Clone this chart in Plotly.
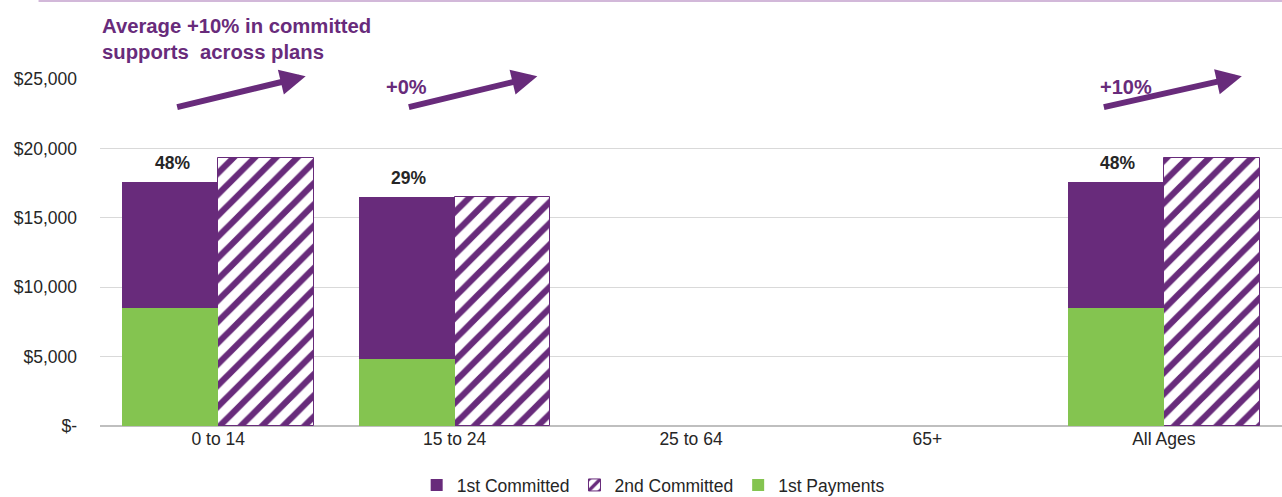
import plotly.graph_objects as go

# dati
categorie = ["0 to 14", "15 to 24", "25 to 64", "65+", "All Ages"]
primo_impegnato = [17600, 16500, None, None, 17600]
secondo_impegnato = [19300, 16500, None, None, 19300]
primi_pagamenti = [8500, 4850, None, None, 8500]
etichette_pct = ["48%", "29%", "", "", "48%"]

tick_vals = [0, 5000, 10000, 15000, 20000, 25000]
tick_txt = ["$-", "$5,000", "$10,000", "$15,000", "$20,000", "$25,000"]

VIOLA = "#682b7b"
VERDE = "#84c450"
w = 0.405

fig = go.Figure()

fig.add_trace(go.Bar(
    x=categorie, y=primo_impegnato, name="1st Committed",
    width=w, offset=-w, opacity=1, marker=dict(color=VIOLA, line=dict(width=0)),
))
fig.add_trace(go.Bar(
    x=categorie, y=secondo_impegnato, name="2nd Committed",
    width=w, offset=0, opacity=1,
    marker=dict(color="white", line=dict(color=VIOLA, width=1),
                pattern=dict(shape="/", fgcolor=VIOLA, bgcolor="white", fgopacity=1,
                             size=15, solidity=0.42)),
))
fig.add_trace(go.Bar(
    x=categorie, y=primi_pagamenti, name="1st Payments",
    width=w, offset=-w, opacity=1, marker=dict(color=VERDE, line=dict(width=0)),
))

# etichette percentuali sopra la prima barra
for cat, val, lab in zip(categorie, primo_impegnato, etichette_pct):
    if val is None or not lab:
        continue
    fig.add_annotation(x=cat, y=val, xref="x", yref="y", text="<b>" + lab + "</b>",
                       showarrow=False, xshift=-46, yshift=19,
                       font=dict(size=17.5, color="#262626"))

# frecce
frecce = [(-0.18, 22950, 0.37, 25200), (0.8, 22950, 1.35, 25200), (3.74, 22950, 4.33, 25200)]
for x0, y0, x1, y1 in frecce:
    fig.add_annotation(x=x1, y=y1, ax=x0, ay=y0, xref="x", yref="y", axref="x", ayref="y",
                       showarrow=True, arrowhead=2, arrowsize=0.85, arrowwidth=6,
                       arrowcolor=VIOLA, text="")

fig.add_annotation(x=0.7, y=24450, xref="x", yref="y", text="<b>+0%</b>", showarrow=False,
                   xanchor="left", font=dict(size=20, color=VIOLA))
fig.add_annotation(x=3.72, y=24450, xref="x", yref="y", text="<b>+10%</b>", showarrow=False,
                   xanchor="left", font=dict(size=20, color=VIOLA))
fig.add_annotation(x=0, y=1.04, xref="paper", yref="paper",
                   text="<b>Average +10% in committed<br>supports  across plans</b>",
                   showarrow=False, xanchor="left", yanchor="bottom", align="left",
                   font=dict(size=20.3, color=VIOLA))

# linea in alto
fig.add_shape(type="line", xref="paper", yref="paper", x0=-0.052, x1=1.0, y0=1.225, y1=1.225,
              line=dict(color="#c3a0cd", width=1.5))

fig.update_layout(
    width=1282, height=497,
    margin=dict(l=100, r=0, t=79, b=71),
    barmode="overlay",
    plot_bgcolor="white", paper_bgcolor="white",
    font=dict(family="Liberation Sans", size=17.5, color="#262626"),
    showlegend=True,
    legend=dict(orientation="h", x=0.468, xanchor="center", yref="container",
                y=0.024, yanchor="middle",
                font=dict(size=17.5), itemwidth=30, traceorder="normal"),
    xaxis=dict(showgrid=False, tickfont=dict(size=17.5), showline=False, ticks="",
               automargin=False),
    yaxis=dict(range=[0, 25000], tickvals=tick_vals, ticktext=tick_txt,
               gridcolor="#d9d9d9", gridwidth=1, zeroline=True, zerolinecolor="#bfbfbf",
               zerolinewidth=1.5, ticklabelstandoff=22, tickfont=dict(size=17.5),
               automargin=False),
    bargap=0,
)

# niente margine di pagina, cosi' la figura occupa tutta la finestra
fig.write_html("out.html", config={"displayModeBar": False},
               post_script="document.body.style.margin='0';")
